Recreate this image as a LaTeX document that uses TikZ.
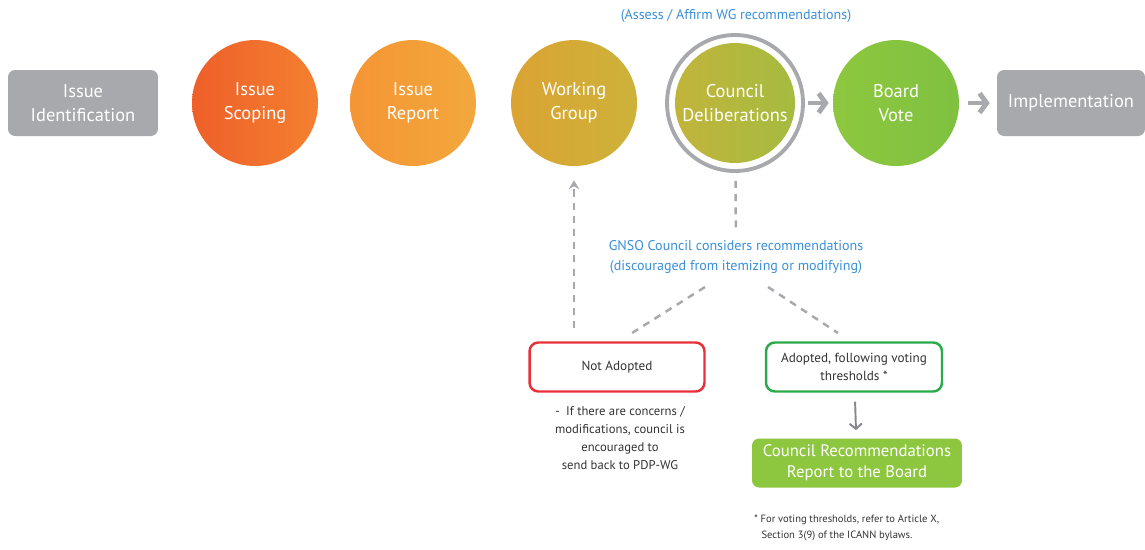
\documentclass[tikz,border=0pt]{standalone}
\usepackage{fontspec}
\setmainfont{PT Sans}
\usetikzlibrary{arrows.meta}
\definecolor{stepgray}{HTML}{A7A9AC}
\definecolor{notegray}{HTML}{333333}
\definecolor{noteblue}{HTML}{3A8FD9}
\definecolor{noadopt}{HTML}{E8303A}
\definecolor{adopt}{HTML}{2BAA4A}
\definecolor{recgreen}{HTML}{8DC63F}
\definecolor{scopeL}{HTML}{EE5F2A}
\definecolor{scopeR}{HTML}{F4802F}
\definecolor{reportL}{HTML}{F59535}
\definecolor{reportR}{HTML}{F2A83C}
\definecolor{wgL}{HTML}{DBA333}
\definecolor{wgR}{HTML}{CDB23A}
\definecolor{councilL}{HTML}{C2B43B}
\definecolor{councilR}{HTML}{A5BB40}
\definecolor{boardL}{HTML}{8EC73F}
\definecolor{boardR}{HTML}{7FC140}
\begin{document}
\begin{tikzpicture}[x=0.02cm,y=-0.02cm]

    \tikzset{
      phase/.style={
        circle,
        inner sep=0pt,
        minimum size=2.52cm,
        text=white,
        align=center,
        font=\fontsize{10.5}{13.6}\selectfont,
      },
      endbox/.style={
        rounded corners=4pt,
        fill=stepgray,
        text=white,
        align=center,
        minimum width=3cm,
        minimum height=1.32cm,
        font=\fontsize{10.5}{13.6}\selectfont,
      },
      outcome/.style={
        draw,
        line width=1.4pt,
        rounded corners=5pt,
        fill=white,
        minimum width=3.5cm,
        minimum height=0.98cm,
        align=center,
        text=notegray,
        font=\fontsize{7.5}{10}\selectfont,
      },
      note/.style={align=center, text=notegray, font=\fontsize{7.2}{10.2}\selectfont},
      bluenote/.style={align=center, text=noteblue, inner sep=2pt, font=\fontsize{8}{11.3}\selectfont},
      flowarrow/.style={draw=stepgray, line width=2.8pt, -{Straight Barb[length=4pt,width=11pt]}},
      dashline/.style={draw=stepgray, line width=1.4pt, dash pattern=on 4pt off 3.5pt},
    }
    \useasboundingbox (0,0) rectangle (1145,549);

	\node[endbox] (ident) at (83,103) {Issue\\Identification};
	\node[phase, left color=scopeL, right color=scopeR] (scope) at (255,103) {Issue\\Scoping};
	\node[phase, left color=reportL, right color=reportR] (report) at (413,103) {Issue\\Report};
	\node[phase, left color=wgL, right color=wgR] (wg) at (574,103) {Working\\Group};
	\node[circle, draw=stepgray, line width=2.2pt, minimum size=2.72cm] (ring) at (735,103) {};
	\node[phase, minimum size=2.4cm, left color=councilL, right color=councilR] (council) at (735,103) {Council\\Deliberations};
	\node[phase, left color=boardL, right color=boardR] (board) at (896,103) {Board\\Vote};
	\node[endbox, minimum width=2.96cm] (impl) at (1071,103) {Implementation};

	\node[bluenote] (assess) at (736,16) {(Assess / Affirm WG recommendations)};
	\node[bluenote] (gnso) at (736,257) {GNSO Council considers recommendations\\(discouraged from itemizing or modifying)};

	\node[outcome, draw=noadopt] (na) at (617,367) {Not Adopted};
	\node[outcome, draw=adopt, minimum width=3.52cm] (ad) at (854,367) {Adopted, following voting\\thresholds *};
	\node[note] (concern) at (620,438) {-\enspace If there are concerns /\\modifications, council is\\encouraged to\\send back to PDP-WG};
	\node[rounded corners=4pt, fill=recgreen, text=white, align=center, minimum width=4.2cm, minimum height=0.98cm, font=\fontsize{9.5}{12}\selectfont] (rec) at (857,463) {Council Recommendations\\Report to the Board};
	\node[anchor=west, align=left, text=notegray, font=\fontsize{6}{9.5}\selectfont] (foot) at (748,528) {* For voting thresholds, refer to Article X,\\\hspace*{0.7em}Section 3(9) of the ICANN bylaws.};

	\coordinate (gnsoL) at (705,287);
	\coordinate (gnsoR) at (768,287);
	\coordinate (naTip) at (632,333);
	\coordinate (adTip) at (838,333);

	\draw[flowarrow, shorten <=0.06cm, shorten >=0.08cm] (ring) -- (board);
	\draw[flowarrow, shorten <=0.18cm, shorten >=0.14cm] (board) -- (impl);
	\draw[dashline, shorten <=0.16cm, shorten >=0.12cm] (ring) -- (gnso);
	\draw[dashline] (gnsoL) -- (naTip);
	\draw[dashline] (gnsoR) -- (adTip);
	\draw[dashline, -{Stealth[length=5pt,width=6pt]}, shorten <=0.26cm, shorten >=0.28cm] (na.north -| wg.south) -- (wg.south);
	\draw[draw=stepgray!80!black, line width=1.1pt, -{Straight Barb[length=3pt,width=7pt]}, shorten <=0.18cm, shorten >=0.16cm] (ad) -- (rec);

\end{tikzpicture}
\end{document}
